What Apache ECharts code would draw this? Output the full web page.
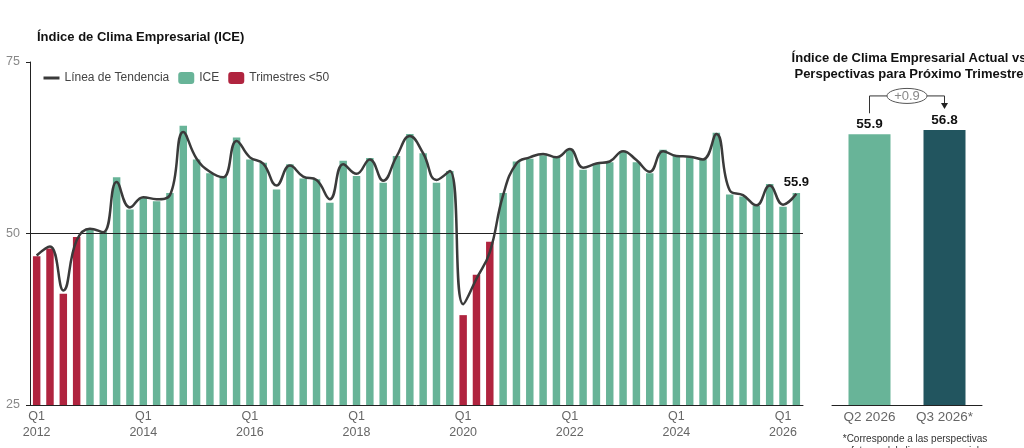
<!DOCTYPE html>
<html>
<head>
<meta charset="utf-8">
<script src="https://cdn.jsdelivr.net/npm/echarts@6/dist/echarts.min.js"></script>
<style>
  html, body { margin: 0; padding: 0; background: #fff; }
  #chart { width: 1024px; height: 448px; }
</style>
</head>
<body>
<div id="chart"></div>
<script>
// 四半期のカテゴリ（2012 Q1 〜 2026 Q2）
const years = [2012, 2013, 2014, 2015, 2016, 2017, 2018, 2019, 2020, 2021, 2022, 2023, 2024, 2025, 2026];
const quarters = [];
years.forEach(y => {
  ['Q1', 'Q2', 'Q3', 'Q4'].forEach(q => {
    if (y === 2026 && (q === 'Q3' || q === 'Q4')) return;
    quarters.push(q + ' ' + y);
  });
});

// ICE の値
const iceValues = [
  46.7, 47.8, 41.2, 49.5,
  50.7, 50.3, 58.2, 53.5,
  55.2, 54.7, 55.9, 65.7,
  60.8, 58.8, 58.3, 64.0,
  60.8, 60.3, 56.4, 60.1,
  58.0, 57.9, 54.5, 60.6,
  58.4, 61.0, 57.4, 61.3,
  64.5, 61.7, 57.4, 59.1,
  38.1, 44.0, 48.8, 55.9,
  60.5, 60.9, 61.4, 61.2,
  62.3, 59.3, 60.2, 60.4,
  62.0, 60.4, 58.8, 62.2,
  61.3, 61.1, 60.8, 64.7,
  55.7, 55.4, 54.0, 57.2,
  53.9, 55.9
];

// トレンド線の値
const trendValues = [
  46.8, 48.1, 41.7, 49.0,
  50.7, 50.2, 57.5, 53.8,
  55.3, 55.0, 55.6, 64.8,
  60.9, 59.0, 58.2, 63.5,
  61.1, 60.2, 57.0, 59.9,
  58.3, 57.8, 55.0, 60.1,
  58.7, 60.8, 57.7, 61.2,
  64.2, 61.7, 57.8, 59.1,
  39.7, 43.4, 47.3, 55.6,
  60.2, 61.1, 61.6, 61.1,
  62.3, 59.6, 60.2, 60.5,
  62.0, 60.7, 59.0, 62.0,
  61.3, 61.2, 60.8, 64.5,
  56.3, 55.6, 54.1, 57.0,
  54.2, 55.8
];

// 右側パネル：現在 vs 次期見通し
const compareCategories = ['Q2 2026', 'Q3 2026*'];
const compareValues = [55.9, 56.8];

const threshold = 50;
const green = '#68b498';
const red = '#b0243f';
const darkTeal = '#22555f';
const font = "'Liberation Sans', Arial, sans-serif";

const chart = echarts.init(document.querySelector('#chart'));

// 50以上と未満で系列を分ける
const lastIdx = iceValues.length - 1;
const iceData = iceValues.map((v, i) => {
  if (v < threshold) return '-';
  if (i === lastIdx) {
    return {
      value: v,
      label: { show: true, position: 'top', distance: 4, formatter: '{c}', fontWeight: 'bold', fontSize: 13, color: '#111', fontFamily: font }
    };
  }
  return v;
});
const lowData = iceValues.map(v => (v < threshold ? v : '-'));

const option = {
  animation: false,
  title: [
    {
      text: 'Índice de Clima Empresarial (ICE)',
      left: 32, top: 26,
      textStyle: { fontSize: 13, fontWeight: 'bold', color: '#111', fontFamily: font }
    },
    {
      text: 'Índice de Clima Empresarial Actual vs\nPerspectivas para Próximo Trimestre',
      left: 904, top: 45, textAlign: 'center',
      textStyle: { fontSize: 13, fontWeight: 'bold', color: '#111', lineHeight: 16, fontFamily: font }
    },
    {
      text: '*Corresponde a las perspectivas\nfuturas del clima empresarial',
      left: 910, top: 428, textAlign: 'center',
      textStyle: { fontSize: 10, fontWeight: 'normal', color: '#333', lineHeight: 12, fontFamily: font }
    }
  ],
  legend: {
    left: 37, top: 67,
    itemWidth: 16, itemHeight: 12, itemGap: 9,
    textStyle: { fontSize: 12, color: '#444', fontFamily: font },
    data: [
      { name: 'Línea de Tendencia', itemStyle: { opacity: 0 }, lineStyle: { width: 3 } },
      'ICE',
      'Trimestres <50'
    ]
  },
  grid: [
    { left: 30, right: 221, top: 62, bottom: 43 },
    { left: 832, right: 42, top: 66, bottom: 43 }
  ],
  xAxis: [
    {
      type: 'category', gridIndex: 0, data: quarters,
      axisLine: { lineStyle: { color: '#222', width: 1 } },
      axisTick: { show: false },
      axisLabel: {
        interval: (i) => i % 8 === 0 || i === quarters.length - 1,
        formatter: v => v.replace(' ', '\n'),
        color: '#666', fontSize: 12.5, lineHeight: 16, margin: 4, fontFamily: font
      }
    },
    {
      type: 'category', gridIndex: 1, data: compareCategories,
      axisLine: { lineStyle: { color: '#222', width: 1 } },
      axisTick: { show: false },
      axisLabel: { color: '#666', fontSize: 13.5, margin: 5, fontFamily: font }
    }
  ],
  yAxis: [
    {
      type: 'value', gridIndex: 0, min: 25, max: 75, interval: 25,
      axisLine: { show: true, lineStyle: { color: '#222', width: 1 } },
      axisTick: { show: true, length: 4, lineStyle: { color: '#222' } },
      splitLine: { show: false },
      axisLabel: { color: '#888', fontSize: 12.5, margin: 10, fontFamily: font }
    },
    {
      type: 'value', gridIndex: 1, min: 0, max: 70, show: false
    }
  ],
  series: [
    {
      name: 'ICE', type: 'bar', xAxisIndex: 0, yAxisIndex: 0,
      data: iceData, stack: 'ice', barCategoryGap: '44%',
      itemStyle: { color: green },
      markLine: {
        silent: true, symbol: 'none', label: { show: false },
        lineStyle: { color: '#222', width: 1, type: 'solid' },
        data: [{ yAxis: threshold }]
      }
    },
    {
      name: 'Trimestres <50', type: 'bar', xAxisIndex: 0, yAxisIndex: 0,
      data: lowData, stack: 'ice', barCategoryGap: '44%',
      itemStyle: { color: red }
    },
    {
      name: 'Línea de Tendencia', type: 'line', xAxisIndex: 0, yAxisIndex: 0,
      data: trendValues, smooth: 0.45, symbol: 'none', z: 5,
      lineStyle: { color: '#3a3a3a', width: 2.5 },
      itemStyle: { color: '#3a3a3a' }
    },
    {
      name: 'compare', type: 'bar', xAxisIndex: 1, yAxisIndex: 1,
      barWidth: 42,
      data: compareValues.map((v, i) => ({ value: v, itemStyle: { color: i === 0 ? green : darkTeal } })),
      label: { show: true, position: 'top', distance: 3, fontWeight: 'bold', fontSize: 13.5, color: '#111', fontFamily: font }
    }
  ]
};

chart.setOption(option);

// 右パネルの +0.9 注記を実際のバー位置から描く
const p0 = chart.convertToPixel({ xAxisIndex: 1, yAxisIndex: 1 }, [0, compareValues[0]]);
const p1 = chart.convertToPixel({ xAxisIndex: 1, yAxisIndex: 1 }, [1, compareValues[1]]);
const yb = p1[1] - 34;
const cx = (p0[0] + p1[0]) / 2;
const rx = 20, ry = 7.5;
const tipY = p1[1] - 21;
const diff = (compareValues[1] - compareValues[0]).toFixed(1);

chart.setOption({
  graphic: [
    {
      type: 'polyline', silent: true,
      shape: { points: [[p0[0], p0[1] - 21], [p0[0], yb], [cx - rx, yb]] },
      style: { stroke: '#333', lineWidth: 1, fill: null }
    },
    {
      type: 'polyline', silent: true,
      shape: { points: [[cx + rx, yb], [p1[0], yb], [p1[0], tipY - 5]] },
      style: { stroke: '#333', lineWidth: 1, fill: null }
    },
    {
      type: 'polygon', silent: true,
      shape: { points: [[p1[0] - 3.5, tipY - 6], [p1[0] + 3.5, tipY - 6], [p1[0], tipY]] },
      style: { fill: '#222' }
    },
    {
      type: 'ellipse', silent: true,
      shape: { cx: cx, cy: yb, rx: rx, ry: ry },
      style: { fill: '#fff', stroke: '#555', lineWidth: 1 }
    },
    {
      type: 'text', silent: true,
      x: cx, y: yb,
      style: {
        text: '+' + diff, fill: '#888', fontSize: 13, fontFamily: font,
        align: 'center', verticalAlign: 'middle'
      }
    }
  ]
});
</script>
</body>
</html>
